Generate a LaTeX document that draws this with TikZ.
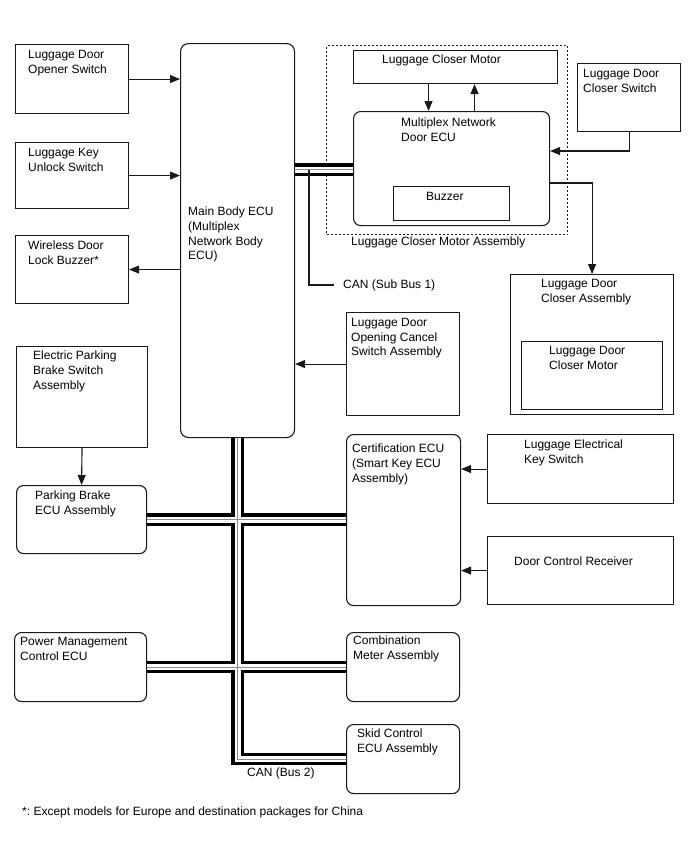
\documentclass[tikz,border=0pt]{standalone}
\usepackage{fontspec}
\setmainfont{Liberation Sans}
\usetikzlibrary{positioning,arrows.meta}
\frenchspacing
\tikzset{
  blk/.style    = {draw=black!90, line width=1.1pt, inner sep=0pt, anchor=north west},
  ecu/.style    = {blk, rounded corners=7pt},
  txt/.style    = {font=\fontsize{12}{14.6}\selectfont, anchor=north west, align=left, inner sep=0pt},
  arr/.style    = {-{Triangle[length=10pt,width=8pt]}, draw=black!90, line width=1.1pt},
  wire/.style   = {draw=black!90, line width=1.1pt},
  assy/.style   = {draw=black!90, line width=1.1pt, dash pattern=on 2pt off 2pt, inner sep=0pt, anchor=north west},
  canbus/.style = {draw=white, line width=6pt,
                   preaction={draw=black, line width=12.4pt},
                   postaction={draw=black!45, line width=0.9pt}},
}

\begin{document}
\begin{tikzpicture}[x=1pt,y=-1pt]
\path[use as bounding box] (0,0) rectangle (688,852);

% ---- switches on the left ----------------------------------------------
\node[blk, minimum width=113, minimum height=69] (opener) at (15,44) {};
\node[txt] (opener-t) at (28,50) {Luggage Door\\Opener Switch};
\node[blk, minimum width=113, minimum height=66] (keyunl) at (15,142) {};
\node[txt] (keyunl-t) at (28,148) {Luggage Key\\Unlock Switch};
\node[blk, minimum width=113, minimum height=68] (wbuzz) at (15,235) {};
\node[txt] (wbuzz-t) at (28,241) {Wireless Door\\Lock Buzzer*};

% ---- main body ecu ------------------------------------------------------
\node[ecu, rounded corners=8pt, minimum width=114, minimum height=394] (mainecu) at (180,43) {};
\node[txt] (mainecu-t) at (188,207) {Main Body ECU\\(Multiplex\\Network Body\\ECU)};

\draw[arr] (opener.east) -- (opener.east -| mainecu.west);
\draw[arr] (keyunl.east) -- (keyunl.east -| mainecu.west);
\draw[arr] (wbuzz.east -| mainecu.west) -- (wbuzz.east);

% ---- luggage closer motor assembly --------------------------------------
\node[assy, minimum width=241, minimum height=189] (lcma) at (326,45) {};
\node[txt, anchor=west] (lcma-t) at (351,242) {Luggage Closer Motor Assembly};
\node[blk, minimum width=204, minimum height=33] (lcm) at (353,50) {};
\node[txt] (lcm-t) at (382,55) {Luggage Closer Motor};
\node[ecu, minimum width=196, minimum height=114] (doorecu) at (353,111) {};
\node[txt] (doorecu-t) at (401,118) {Multiplex Network\\Door ECU};
\node[blk, minimum width=116, minimum height=34] (buzz) at (393,186) {};
\node[txt] (buzz-t) at (426,192) {Buzzer};

\draw[arr] ([xshift=-27pt]lcm.south) -- ([xshift=-27pt]lcm.south |- doorecu.north);
\draw[arr] ([xshift=19pt]lcm.south |- doorecu.north) -- ([xshift=19pt]lcm.south);

% ---- luggage door closer ------------------------------------------------
\node[blk, minimum width=103, minimum height=68] (ldcsw) at (577,63) {};
\node[txt] (ldcsw-t) at (583,69) {Luggage Door\\Closer Switch};
\node[blk, minimum width=163, minimum height=140] (ldca) at (510,274) {};
\node[txt] (ldca-t) at (541,279) {Luggage Door\\Closer Assembly};
\node[blk, minimum width=141, minimum height=68] (ldcm) at (521,341) {};
\node[txt] (ldcm-t) at (549,346) {Luggage Door\\Closer Motor};

\draw[arr] (ldcsw.south) |- ([yshift=-40pt]doorecu.north east);
\draw[arr] ([yshift=-72pt]doorecu.north east) -| (ldca.north);

% ---- can sub bus 1 ------------------------------------------------------
\path[canbus] ([yshift=-126.5pt]mainecu.north east) -- ([yshift=-126.5pt]mainecu.north east -| doorecu.west);
\coordinate (tap1) at (309,169.5);
\node[txt, anchor=west] (sub1-t) at (343,285) {CAN (Sub Bus 1)};
\draw[wire] (tap1) |- ([xshift=-9pt]sub1-t.west);

% ---- right-hand switches ------------------------------------------------
\node[blk, minimum width=113, minimum height=103] (cancel) at (346,312) {};
\node[txt] (cancel-t) at (351,318) {Luggage Door\\Opening Cancel\\Switch Assembly};
\draw[arr] (cancel.west) -- (cancel.west -| mainecu.east);

\node[ecu, minimum width=114, minimum height=171] (cert) at (346,434) {};
\node[txt] (cert-t) at (352,444) {Certification ECU\\(Smart Key ECU\\Assembly)};
\node[blk, minimum width=186, minimum height=69] (leks) at (487,434) {};
\node[txt] (leks-t) at (524,440) {Luggage Electrical\\Key Switch};
\node[blk, minimum width=186, minimum height=68] (dcr) at (487,536) {};
\node[txt, anchor=west] (dcr-t) at (514,561) {Door Control Receiver};
\draw[arr] (leks.west) -- (leks.west -| cert.east);
\draw[arr] (dcr.west) -- (dcr.west -| cert.east);

% ---- left-hand ecus -----------------------------------------------------
\node[blk, minimum width=131, minimum height=101] (epbs) at (16,346) {};
\node[txt] (epbs-t) at (33,351) {Electric Parking\\Brake Switch\\Assembly};
\node[ecu, minimum width=130, minimum height=68] (pbecu) at (16,485) {};
\node[txt] (pbecu-t) at (35,491) {Parking Brake\\ECU Assembly};
\draw[arr] (epbs.south) -- (pbecu.north);

\node[ecu, minimum width=132, minimum height=69] (pmecu) at (14,632) {};
\node[txt] (pmecu-t) at (20,637) {Power Management\\Control ECU};
\node[ecu, minimum width=113, minimum height=69] (meter) at (346,632) {};
\node[txt] (meter-t) at (353,636) {Combination\\Meter Assembly};
\node[ecu, minimum width=113, minimum height=69] (skid) at (346,724) {};
\node[txt] (skid-t) at (357,729) {Skid Control\\ECU Assembly};

% ---- can bus 2 ----------------------------------------------------------
\path[canbus] (mainecu.south) |- (skid.west)
  (pbecu.east) -- (pbecu.east -| cert.west)
  (pmecu.east) -- (pmecu.east -| meter.west);
\node[txt, anchor=west] (bus2-t) at (247,773) {CAN (Bus 2)};

\node[txt, anchor=west] (note) at (22,812) {*: Except models for Europe and destination packages for China};

\end{tikzpicture}
\end{document}
